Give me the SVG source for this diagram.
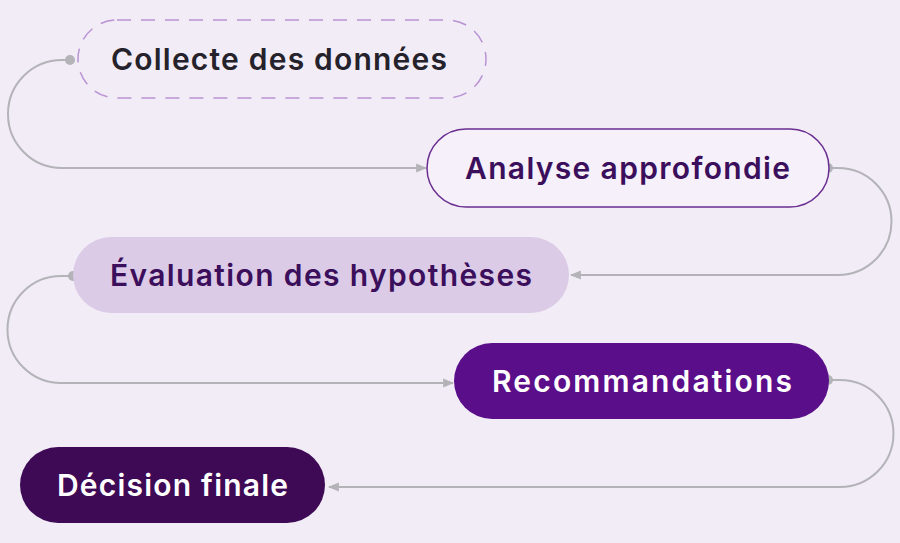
<svg xmlns="http://www.w3.org/2000/svg" width="900" height="543" viewBox="0 0 900 543">
<style>
.lbl{font-family:Inter,"Open Sans","Liberation Sans",sans-serif;font-weight:600;font-size:30px;text-anchor:middle;dominant-baseline:central}
.con{fill:none;stroke:#b3b3b8;stroke-width:2}
.dot{fill:#b3b3b8}
</style>
<defs>
<marker id="arr" viewBox="0 0 10 10" refX="9" refY="5" markerWidth="11" markerHeight="11" markerUnits="userSpaceOnUse" orient="auto">
<path d="M0,1 L10,5 L0,9 Z" fill="#b3b3b8"/>
</marker>
</defs>
<rect width="900" height="543" fill="#f1ecf6"/>
<g id="connectors">
<path class="con" d="M70,60 H62 A54,54 0 0 0 62,168 H426" marker-end="url(#arr)"/>
<circle class="dot" cx="70" cy="60" r="5"/>
<path class="con" d="M828,168 H838 A53.5,53.5 0 0 1 838,275 H571" marker-end="url(#arr)"/>
<circle class="dot" cx="828" cy="168" r="5"/>
<path class="con" d="M73,276 H61 A53.5,53.5 0 0 0 61,383 H453" marker-end="url(#arr)"/>
<circle class="dot" cx="73" cy="276" r="5"/>
<path class="con" d="M828,380 H840 A53.5,53.5 0 0 1 840,487 H329" marker-end="url(#arr)"/>
<circle class="dot" cx="828" cy="380" r="5"/>
</g>
<g id="n1">
<rect x="78" y="20" width="408" height="78" rx="39" fill="none" stroke="#b993d4" stroke-width="1.5" stroke-dasharray="14 10"/>
<text class="lbl" x="279" y="59" fill="#25222c" textLength="336" lengthAdjust="spacing">Collecte des données</text>
</g>
<g id="n2">
<rect x="427" y="129" width="402" height="78" rx="39" fill="#f5f0f9" stroke="#6a2d90" stroke-width="1.5"/>
<text class="lbl" x="627.5" y="168" fill="#3b0f5c" textLength="325" lengthAdjust="spacing">Analyse approfondie</text>
</g>
<g id="n3">
<rect x="73" y="237" width="496" height="76" rx="38" fill="#dccbe6"/>
<text class="lbl" x="321" y="275" fill="#3b0f5c" textLength="422" lengthAdjust="spacing">Évaluation des hypothèses</text>
</g>
<g id="n4">
<rect x="454" y="343" width="375" height="76" rx="38" fill="#5a0e8a"/>
<text class="lbl" x="642" y="381" fill="#ffffff" textLength="300" lengthAdjust="spacing">Recommandations</text>
</g>
<g id="n5">
<rect x="20" y="447" width="305" height="76" rx="38" fill="#3e0a56"/>
<text class="lbl" x="172.5" y="485" fill="#ffffff" textLength="231" lengthAdjust="spacing">Décision finale</text>
</g>
</svg>
